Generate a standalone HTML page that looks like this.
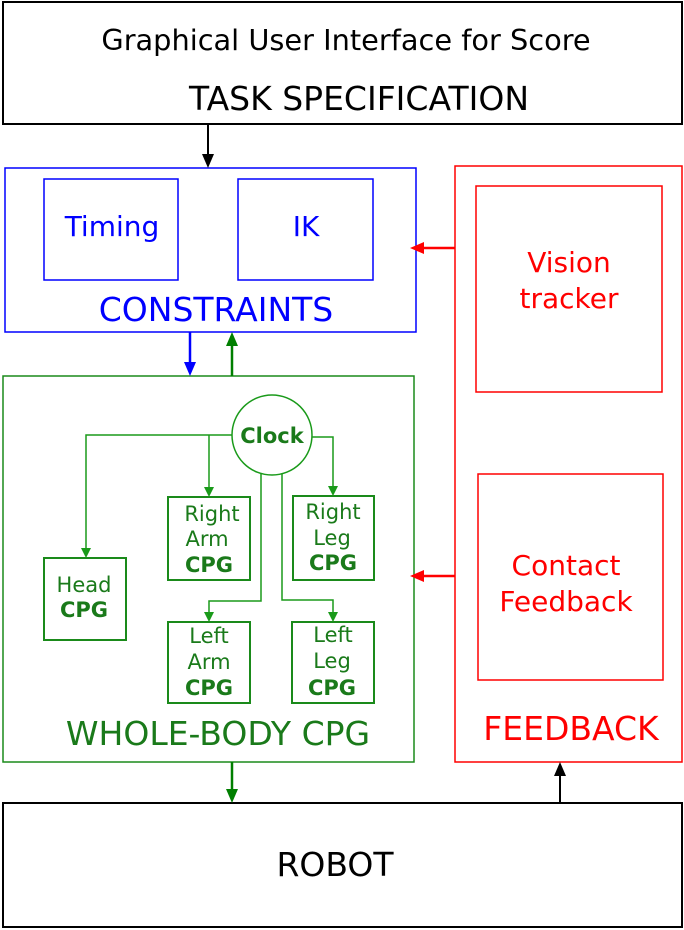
<!DOCTYPE html>
<html><head><meta charset="utf-8"><style>body{margin:0;background:#fff}svg{display:block}text{font-family:"DejaVu Sans","Liberation Sans",sans-serif}</style></head>
<body>
<svg width="684" height="930" viewBox="0 0 684 930" xmlns="http://www.w3.org/2000/svg">
<g fill="none" stroke-width="2">
<rect x="3" y="2" width="679" height="122" stroke="#000"/>
<rect x="5" y="168" width="411" height="164" stroke="#00f" stroke-width="1.5"/>
<rect x="44" y="179" width="134" height="101" stroke="#00f" stroke-width="1.5"/>
<rect x="238" y="179" width="135" height="101" stroke="#00f" stroke-width="1.5"/>
<rect x="455" y="166" width="227" height="596" stroke="#f00" stroke-width="1.5"/>
<rect x="476" y="186" width="186" height="206" stroke="#f00" stroke-width="1.5"/>
<rect x="478" y="474" width="185" height="206" stroke="#f00" stroke-width="1.5"/>
<rect x="3" y="376" width="411" height="386" stroke="#1a8a1a" stroke-width="1.5"/>
<rect x="3" y="803" width="679" height="124" stroke="#000"/>
<circle cx="272" cy="435" r="40" stroke="#1a9a1a" stroke-width="1.5"/>
<g stroke="#1a8a1a" stroke-width="2">
<rect x="44" y="558" width="82" height="82"/>
<rect x="168" y="497" width="82" height="83"/>
<rect x="293" y="496" width="81" height="84"/>
<rect x="168" y="622" width="82" height="81"/>
<rect x="292" y="622" width="82" height="81"/>
</g>
<g stroke="#1a9a1a" stroke-width="1.5">
<path d="M232,435 H86 V552"/>
<path d="M209,435 V491"/>
<path d="M312,437 H333 V490"/>
<path d="M261,474 V601 H209 V616"/>
<path d="M282,474 V600 H333 V616"/>
</g>
<path d="M208,124 V156" stroke="#000"/>
<path d="M190,332 V364" stroke="#00f" stroke-width="2.5"/>
<path d="M232,376 V344" stroke="#007f00" stroke-width="2.5"/>
<path d="M455,248 H422" stroke="#f00" stroke-width="2.5"/>
<path d="M455,576 H422" stroke="#f00" stroke-width="2.5"/>
<path d="M232,762 V790" stroke="#007f00" stroke-width="2.5"/>
<path d="M560,803 V774" stroke="#000"/>
</g>
<g>
<polygon points="202,154 214,154 208,168" fill="#000"/>
<polygon points="184,362 196,362 190,376" fill="#00f"/>
<polygon points="226,346 238,346 232,332" fill="#007f00"/>
<polygon points="424,242 424,254 410,248" fill="#f00"/>
<polygon points="424,570 424,582 410,576" fill="#f00"/>
<polygon points="226,789 238,789 232,803" fill="#007f00"/>
<polygon points="554,776 566,776 560,762" fill="#000"/>
<g fill="#1a9a1a">
<polygon points="81,548 91,548 86,558"/>
<polygon points="204,487 214,487 209,497"/>
<polygon points="328,486 338,486 333,496"/>
<polygon points="204,612 214,612 209,622"/>
<polygon points="328,612 338,612 333,622"/>
</g>
</g>
<g text-anchor="middle">
<text x="346" y="50" font-size="28.8" fill="#000">Graphical User Interface for Score</text>
<text x="359" y="110" font-size="33" fill="#000">TASK SPECIFICATION</text>
<text x="112" y="236" font-size="28" fill="#00f">Timing</text>
<text x="306" y="236" font-size="28" fill="#00f">IK</text>
<text x="216" y="321" font-size="33" fill="#00f">CONSTRAINTS</text>
<text x="569" y="272" font-size="28" fill="#f00">Vision</text>
<text x="569" y="308" font-size="28" fill="#f00">tracker</text>
<text x="566" y="575" font-size="28" fill="#f00">Contact</text>
<text x="566" y="611" font-size="28" fill="#f00">Feedback</text>
<text x="571" y="740" font-size="33" fill="#f00">FEEDBACK</text>
<text x="218" y="745" font-size="33" fill="#1a7a1a">WHOLE-BODY CPG</text>
<text x="335" y="876" font-size="33" fill="#000">ROBOT</text>
<g fill="#1a7a1a" font-size="21">
<text x="272" y="443" font-weight="bold" font-size="21">Clock</text>
<text x="84" y="592">Head</text><text x="84" y="617" font-weight="bold">CPG</text>
<text x="212" y="521">Right</text><text x="207" y="546">Arm</text><text x="209" y="572" font-weight="bold">CPG</text>
<text x="333" y="519">Right</text><text x="332" y="545">Leg</text><text x="333" y="570" font-weight="bold">CPG</text>
<text x="209" y="643">Left</text><text x="209" y="669">Arm</text><text x="209" y="695" font-weight="bold">CPG</text>
<text x="333" y="642">Left</text><text x="332" y="668">Leg</text><text x="332" y="695" font-weight="bold">CPG</text>
</g>
</g>
</svg>
</body></html>
